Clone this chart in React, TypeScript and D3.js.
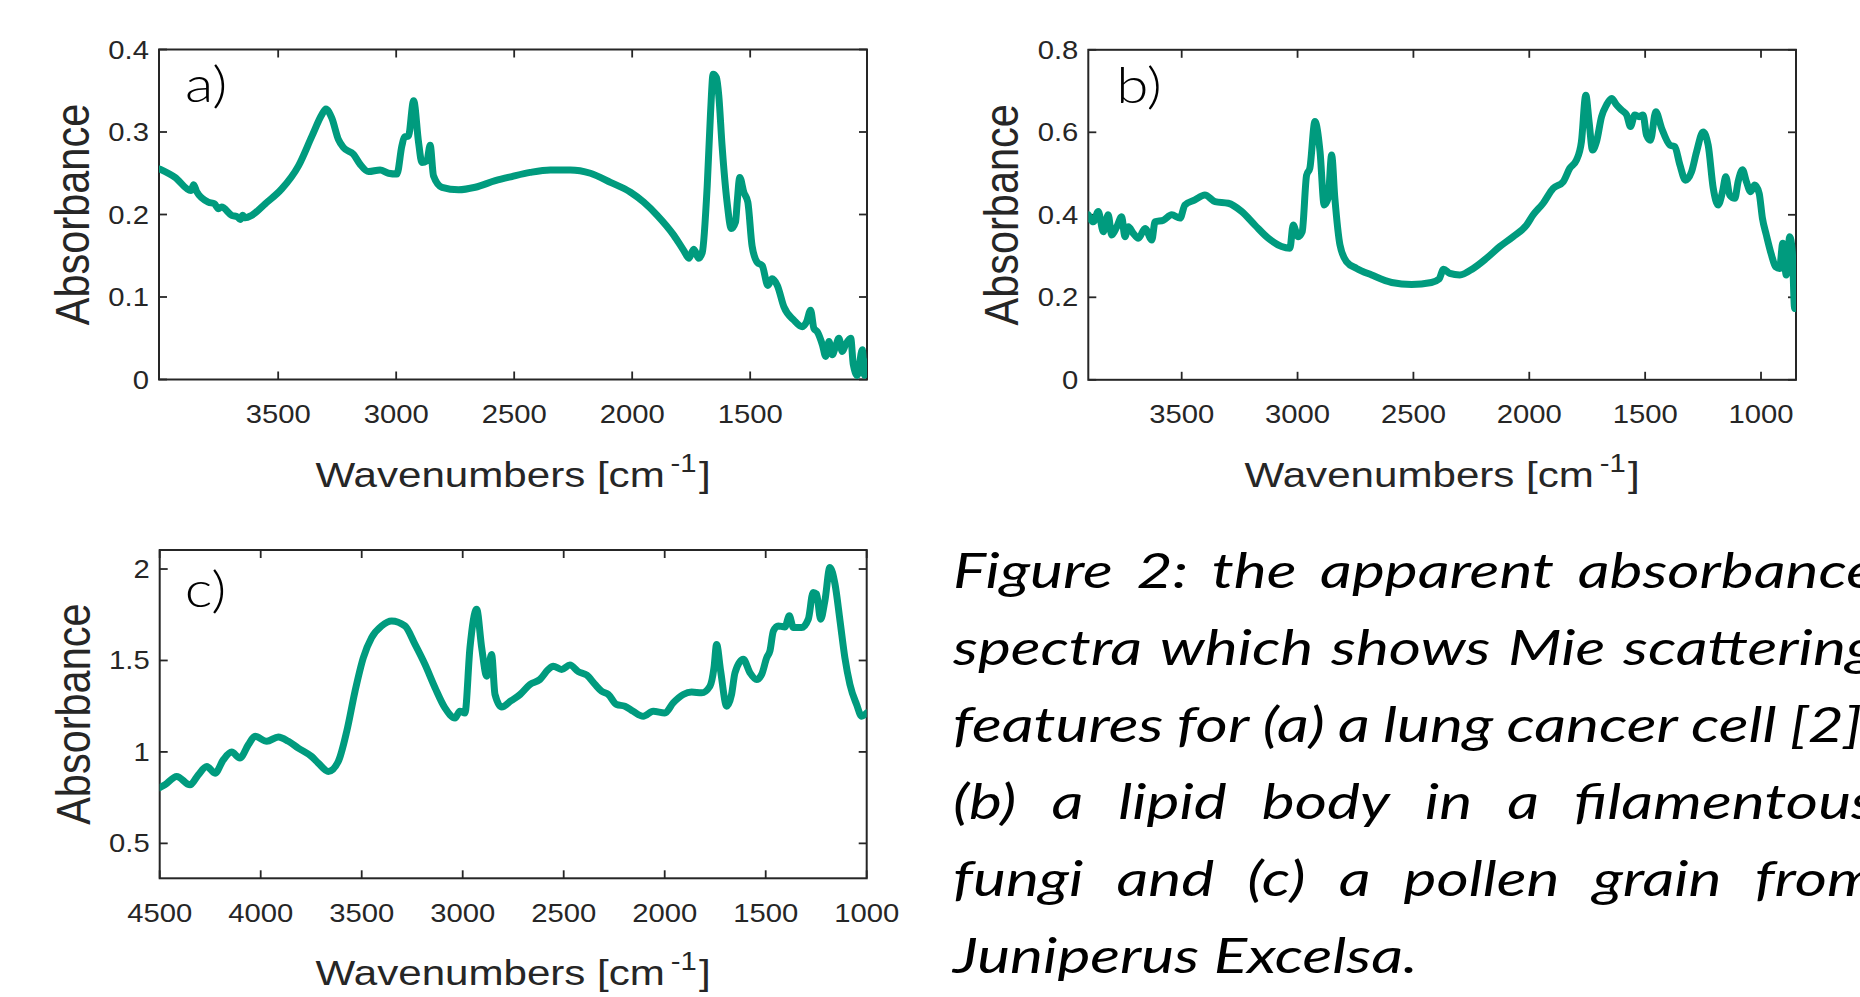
import React, { useMemo } from "react";
import * as d3 from "d3";

// ---------- Data ----------
// Panel a: lung cancer cell
const waveA = [4001, 3937, 3870, 3858, 3846, 3796, 3770, 3753, 3740, 3697, 3672, 3661, 3650, 3640, 3612, 3555, 3485, 3414, 3357, 3315, 3298, 3273, 3245, 3223, 3181, 3153, 3117, 3068, 3033, 2997, 2976, 2965, 2948, 2926, 2905, 2891, 2870, 2856, 2842, 2806, 2736, 2665, 2580, 2510, 2432, 2347, 2262, 2177, 2092, 2007, 1951, 1894, 1824, 1781, 1760, 1739, 1718, 1703, 1682, 1668, 1657, 1643, 1633, 1619, 1598, 1580, 1562, 1555, 1544, 1527, 1510, 1492, 1470, 1449, 1425, 1407, 1385, 1357, 1315, 1279, 1261, 1244, 1230, 1216, 1194, 1180, 1166, 1152, 1138, 1124, 1110, 1096, 1074, 1063, 1046, 1025, 1015, 1004];
const absA = [0.255, 0.245, 0.229, 0.236, 0.228, 0.215, 0.213, 0.207, 0.209, 0.199, 0.197, 0.194, 0.199, 0.196, 0.199, 0.213, 0.231, 0.259, 0.295, 0.321, 0.328, 0.317, 0.291, 0.281, 0.273, 0.261, 0.252, 0.254, 0.250, 0.249, 0.283, 0.294, 0.295, 0.338, 0.287, 0.263, 0.265, 0.284, 0.247, 0.233, 0.230, 0.233, 0.241, 0.246, 0.251, 0.254, 0.254, 0.250, 0.239, 0.227, 0.215, 0.199, 0.175, 0.156, 0.147, 0.158, 0.147, 0.154, 0.235, 0.323, 0.370, 0.366, 0.344, 0.283, 0.215, 0.183, 0.191, 0.215, 0.245, 0.227, 0.215, 0.162, 0.142, 0.138, 0.114, 0.122, 0.114, 0.088, 0.072, 0.064, 0.070, 0.084, 0.062, 0.058, 0.042, 0.028, 0.046, 0.030, 0.040, 0.050, 0.034, 0.042, 0.050, 0.018, 0.005, 0.036, 0.005, 0.021];

// Panel b: lipid body in a filamentous fungus
const waveB = [3903, 3881, 3860, 3838, 3817, 3802, 3780, 3759, 3745, 3730, 3709, 3687, 3658, 3629, 3615, 3579, 3543, 3507, 3486, 3443, 3400, 3356, 3299, 3241, 3184, 3126, 3069, 3033, 3019, 2997, 2980, 2961, 2947, 2925, 2903, 2885, 2868, 2853, 2839, 2817, 2788, 2745, 2680, 2594, 2508, 2422, 2390, 2370, 2343, 2300, 2242, 2184, 2127, 2070, 2012, 1983, 1940, 1897, 1854, 1825, 1796, 1775, 1756, 1742, 1727, 1710, 1688, 1667, 1645, 1623, 1602, 1580, 1563, 1545, 1526, 1509, 1494, 1477, 1454, 1429, 1393, 1372, 1350, 1326, 1300, 1278, 1250, 1228, 1206, 1185, 1166, 1152, 1135, 1113, 1099, 1080, 1063, 1045, 1027, 1008, 994, 977, 955, 937, 920, 906, 891, 876, 865, 855, 850];
const absB = [0.400, 0.383, 0.408, 0.359, 0.400, 0.351, 0.371, 0.395, 0.347, 0.371, 0.355, 0.343, 0.367, 0.339, 0.383, 0.387, 0.400, 0.392, 0.424, 0.436, 0.448, 0.432, 0.428, 0.408, 0.375, 0.343, 0.323, 0.319, 0.375, 0.347, 0.359, 0.496, 0.513, 0.626, 0.553, 0.424, 0.440, 0.545, 0.440, 0.327, 0.286, 0.270, 0.254, 0.236, 0.231, 0.236, 0.244, 0.268, 0.258, 0.254, 0.270, 0.295, 0.323, 0.347, 0.375, 0.400, 0.428, 0.464, 0.480, 0.513, 0.533, 0.577, 0.690, 0.626, 0.557, 0.577, 0.638, 0.666, 0.682, 0.666, 0.654, 0.642, 0.614, 0.642, 0.638, 0.642, 0.593, 0.581, 0.650, 0.610, 0.569, 0.565, 0.521, 0.484, 0.504, 0.553, 0.601, 0.569, 0.464, 0.424, 0.456, 0.492, 0.448, 0.440, 0.480, 0.509, 0.480, 0.456, 0.472, 0.452, 0.392, 0.351, 0.303, 0.274, 0.270, 0.331, 0.254, 0.347, 0.311, 0.173, 0.214];

// Panel c: pollen grain from Juniperus Excelsa
const waveC = [4500, 4474, 4416, 4350, 4309, 4267, 4226, 4185, 4144, 4103, 4061, 4028, 3970, 3913, 3863, 3814, 3748, 3715, 3665, 3616, 3574, 3533, 3492, 3451, 3401, 3352, 3286, 3236, 3187, 3137, 3088, 3038, 3014, 2989, 2964, 2931, 2906, 2881, 2857, 2840, 2807, 2760, 2716, 2667, 2618, 2576, 2552, 2510, 2469, 2428, 2386, 2345, 2312, 2279, 2238, 2197, 2156, 2106, 2057, 1999, 1958, 1908, 1867, 1817, 1776, 1756, 1743, 1723, 1693, 1669, 1652, 1611, 1578, 1545, 1520, 1495, 1479, 1462, 1438, 1405, 1383, 1363, 1322, 1289, 1265, 1248, 1228, 1207, 1182, 1157, 1132, 1108, 1083, 1050, 1025, 1000];
const absC = [0.805, 0.820, 0.866, 0.820, 0.875, 0.920, 0.884, 0.957, 0.999, 0.967, 1.040, 1.085, 1.058, 1.082, 1.058, 1.021, 0.975, 0.939, 0.893, 0.948, 1.113, 1.332, 1.515, 1.625, 1.689, 1.716, 1.689, 1.588, 1.479, 1.351, 1.241, 1.186, 1.222, 1.213, 1.570, 1.780, 1.570, 1.414, 1.533, 1.314, 1.246, 1.280, 1.314, 1.369, 1.396, 1.451, 1.469, 1.451, 1.475, 1.439, 1.420, 1.369, 1.332, 1.314, 1.259, 1.250, 1.222, 1.195, 1.222, 1.213, 1.268, 1.314, 1.327, 1.323, 1.359, 1.460, 1.588, 1.442, 1.250, 1.314, 1.433, 1.506, 1.433, 1.396, 1.424, 1.515, 1.552, 1.661, 1.689, 1.683, 1.744, 1.680, 1.680, 1.726, 1.872, 1.863, 1.726, 1.826, 2.009, 1.918, 1.716, 1.515, 1.369, 1.259, 1.195, 1.213];

// Ticks
const xTicksA = [3500, 3000, 2500, 2000, 1500];
const xTickLabelsA = ["3500", "3000", "2500", "2000", "1500"];
const yTicksA = [0, 0.1, 0.2, 0.3, 0.4];
const yTickLabelsA = ["0", "0.1", "0.2", "0.3", "0.4"];

const xTicksB = [3500, 3000, 2500, 2000, 1500, 1000];
const xTickLabelsB = ["3500", "3000", "2500", "2000", "1500", "1000"];
const yTicksB = [0, 0.2, 0.4, 0.6, 0.8];
const yTickLabelsB = ["0", "0.2", "0.4", "0.6", "0.8"];

const xTicksC = [4500, 4000, 3500, 3000, 2500, 2000, 1500, 1000];
const xTickLabelsC = ["4500", "4000", "3500", "3000", "2500", "2000", "1500", "1000"];
const yTicksC = [0.5, 1, 1.5, 2];
const yTickLabelsC = ["0.5", "1", "1.5", "2"];

const xAxisTitle = "Wavenumbers [cm";
const xAxisSup = "-1";
const yAxisTitle = "Absorbance";

const captionLines = [
  "Figure 2: the apparent absorbance",
  "spectra which shows Mie scattering",
  "features for (a) a lung cancer cell [2],",
  "(b) a lipid body in a filamentous",
  "fungi and (c) a pollen grain from",
  "Juniperus Excelsa.",
];

// ---------- Styles ----------
const SX = 1.17; // horizontal stretch of the original slide
const CAP_SX = 1.27;
const LINE = "#009b7e";
const AXIS = "#262626";
const SANS = "'Liberation Sans', Arial, Helvetica, sans-serif";
const CAPF = "Lato, 'Open Sans', sans-serif";
const CAP_SIZE = 49;
const CAP_LEFT = 953;
const CAP_RIGHT = 1876;
const CAP_TOP_BASE = 588;
const CAP_PITCH = 77;

type STProps = {
  x: number;
  y: number;
  anchor?: "start" | "middle" | "end";
  size: number;
  family?: string;
  italic?: boolean;
  weight?: number;
  rotate?: number;
  sx?: number;
  children: React.ReactNode;
};

function ST({ x, y, anchor = "start", size, family = SANS, italic, weight, rotate, sx = SX, children }: STProps) {
  return (
    <g transform={`translate(${x},${y}) scale(${sx},1)${rotate ? ` rotate(${rotate})` : ""}`}>
      <text
        textAnchor={anchor}
        fontSize={size}
        fontFamily={family}
        fontStyle={italic ? "italic" : "normal"}
        fontWeight={weight ?? 400}
        fill={family === SANS ? AXIS : "#000"}
      >
        {children}
      </text>
    </g>
  );
}

type PanelProps = {
  id: string;
  left: number;
  right: number;
  top: number;
  bottom: number;
  xDomain: [number, number];
  yDomain: [number, number];
  waves: number[];
  values: number[];
  xTicks: number[];
  xLabels: string[];
  yTicks: number[];
  yLabels: string[];
  letter: string;
  letterDx: number;
  letterDy: number;
};

function Panel(p: PanelProps) {
  const xs = d3.scaleLinear().domain(p.xDomain).range([p.left, p.right]);
  const ys = d3.scaleLinear().domain(p.yDomain).range([p.bottom, p.top]);
  const path =
    d3
      .line<number>()
      .x((_, i) => xs(p.waves[i]))
      .y((v) => ys(v))
      .curve(d3.curveMonotoneX)(p.values) ?? "";
  const TL = 8;
  const clipId = `clip-${p.id}`;
  const cx = (p.left + p.right) / 2;
  const cy = (p.top + p.bottom) / 2;
  return (
    <g>
      <defs>
        <clipPath id={clipId}>
          <rect x={p.left} y={p.top} width={p.right - p.left} height={p.bottom - p.top} />
        </clipPath>
      </defs>
      <rect x={p.left} y={p.top} width={p.right - p.left} height={p.bottom - p.top} fill="#fff" stroke={AXIS} strokeWidth={2} />
      {p.xTicks.map((t, i) => (
        <g key={"xt" + t}>
          <line x1={xs(t)} x2={xs(t)} y1={p.bottom} y2={p.bottom - TL} stroke={AXIS} strokeWidth={1.8} />
          <line x1={xs(t)} x2={xs(t)} y1={p.top} y2={p.top + TL} stroke={AXIS} strokeWidth={1.8} />
          <ST x={xs(t)} y={p.bottom + 43.5} anchor="middle" size={25}>
            {p.xLabels[i]}
          </ST>
        </g>
      ))}
      {p.yTicks.map((t, i) => (
        <g key={"yt" + t}>
          <line x1={p.left} x2={p.left + TL} y1={ys(t)} y2={ys(t)} stroke={AXIS} strokeWidth={1.8} />
          <line x1={p.right} x2={p.right - TL} y1={ys(t)} y2={ys(t)} stroke={AXIS} strokeWidth={1.8} />
          <ST x={p.left - 10} y={ys(t) + 9} anchor="end" size={25}>
            {p.yLabels[i]}
          </ST>
        </g>
      ))}
      <path
        d={path}
        fill="none"
        stroke={LINE}
        strokeWidth={7}
        strokeLinejoin="round"
        strokeLinecap="round"
        clipPath={`url(#${clipId})`}
      />
      <ST x={p.left + p.letterDx} y={p.top + p.letterDy} size={50} family={CAPF} weight={300}>
        {p.letter}
      </ST>
      <ST x={cx} y={p.bottom + 107} anchor="middle" size={36}>
        {xAxisTitle}
        <tspan dx={5} dy={-15} fontSize={25}>
          {xAxisSup}
        </tspan>
        <tspan dx={2} dy={15}>
          ]
        </tspan>
      </ST>
      <ST x={p.left - 70} y={cy} anchor="middle" size={41.5} rotate={-90}>
        {yAxisTitle}
      </ST>
    </g>
  );
}

function Caption() {
  const layout = useMemo(() => {
    const ctx = document.createElement("canvas").getContext("2d");
    const font = `italic 400 ${CAP_SIZE}px Lato`;
    if (ctx) ctx.font = font;
    const meas = (s: string) => (ctx ? ctx.measureText(s).width : s.length * CAP_SIZE * 0.5) * CAP_SX;
    const space = meas(" ");
    return captionLines.map((line, li) => {
      const words = line.split(" ");
      const widths = words.map(meas);
      const total = widths.reduce((a, b) => a + b, 0);
      const justify = li < captionLines.length - 1 && words.length > 1;
      const gap = justify ? Math.max(space * 0.7, (CAP_RIGHT - CAP_LEFT - total) / (words.length - 1)) : space;
      let x = CAP_LEFT;
      return words.map((w, i) => {
        const r = { w, x };
        x += widths[i] + gap;
        return r;
      });
    });
  }, []);
  return (
    <g>
      {layout.map((words, li) =>
        words.map((wd, wi) => (
          <ST
            key={li + "-" + wi}
            x={wd.x}
            y={CAP_TOP_BASE + li * CAP_PITCH}
            size={CAP_SIZE}
            family={CAPF}
            weight={400}
            sx={CAP_SX}
            italic
          >
            {wd.w}
          </ST>
        ))
      )}
    </g>
  );
}

export default function App() {
  return (
    <svg
      width={1860}
      height={997}
      viewBox="0 0 1860 997"
      style={{ position: "fixed", left: 0, top: 0, background: "#fff" }}
    >
      <rect x={0} y={0} width={1860} height={997} fill="#fff" />
      <Panel
        id="a"
        left={159}
        right={867}
        top={49.5}
        bottom={379.5}
        xDomain={[4005, 1005]}
        yDomain={[0, 0.4]}
        waves={waveA}
        values={absA}
        xTicks={xTicksA}
        xLabels={xTickLabelsA}
        yTicks={yTicksA}
        yLabels={yTickLabelsA}
        letter="a)"
        letterDx={26}
        letterDy={52.5}
      />
      <Panel
        id="b"
        left={1088.3}
        right={1796}
        top={49.8}
        bottom={379.8}
        xDomain={[3903, 849]}
        yDomain={[0, 0.8]}
        waves={waveB}
        values={absB}
        xTicks={xTicksB}
        xLabels={xTickLabelsB}
        yTicks={yTicksB}
        yLabels={yTickLabelsB}
        letter="b)"
        letterDx={28}
        letterDy={53.5}
      />
      <Panel
        id="c"
        left={159.7}
        right={866.7}
        top={550}
        bottom={878.3}
        xDomain={[4500, 1000]}
        yDomain={[0.309, 2.104]}
        waves={waveC}
        values={absC}
        xTicks={xTicksC}
        xLabels={xTickLabelsC}
        yTicks={yTicksC}
        yLabels={yTickLabelsC}
        letter="c)"
        letterDx={25}
        letterDy={56.7}
      />
      <Caption />
    </svg>
  );
}
